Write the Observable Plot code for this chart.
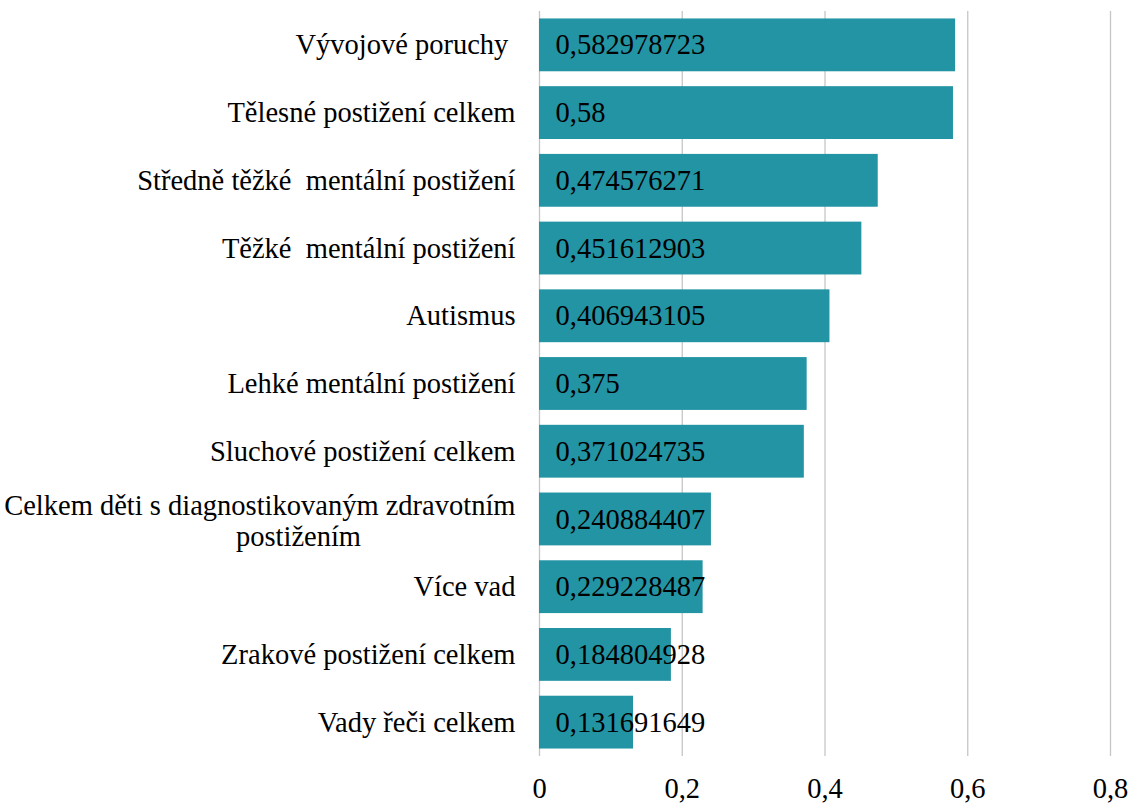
<!DOCTYPE html>
<html><head><meta charset="utf-8">
<script src="https://cdn.jsdelivr.net/npm/d3@7"></script>
<script src="https://cdn.jsdelivr.net/npm/@observablehq/plot@0.6"></script>
<style>body{margin:0;background:#fff} svg text{white-space:pre}</style>
</head><body><div id="chart"></div>
<script>
const categories = [
  "Vývojové poruchy ",
  "Tělesné postižení celkem",
  "Středně těžké  mentální postižení",
  "Těžké  mentální postižení",
  "Autismus",
  "Lehké mentální postižení",
  "Sluchové postižení celkem",
  "Celkem děti s diagnostikovaným zdravotním postižením",
  "Více vad",
  "Zrakové postižení celkem",
  "Vady řeči celkem"
];
const values = [0.582978723, 0.58, 0.474576271, 0.451612903, 0.406943105, 0.375, 0.371024735, 0.240884407, 0.229228487, 0.184804928, 0.131691649];
const valueLabels = ["0,582978723", "0,58", "0,474576271", "0,451612903", "0,406943105", "0,375", "0,371024735", "0,240884407", "0,229228487", "0,184804928", "0,131691649"];
const xTicks = [0, 0.2, 0.4, 0.6, 0.8];
const wrappedCategory = "Celkem děti s diagnostikovaným zdravotním postižením";
const wrappedLines = ["Celkem děti s diagnostikovaným zdravotním", "postižením"];

const data = categories.map((c, i) => ({category: c, value: values[i], label: valueLabels[i]}));
const fmt = d => String(d).replace(".", ",");
const FONT = 28.5;

const plot = Plot.plot({
  width: 1131, height: 803,
  marginLeft: 539, marginRight: 21, marginTop: 11, marginBottom: 47,
  style: {fontFamily: "Liberation Serif", fontSize: FONT + "px", color: "#000", background: "#fff"},
  x: {domain: [0, 0.8], label: null},
  y: {domain: categories, paddingInner: 0.22, paddingOuter: 0.11, round: false, label: null, axis: null},
  marks: [
    Plot.gridX(xTicks, {stroke: "#c6c6c6", strokeOpacity: 1, strokeWidth: 1.3}),
    Plot.axisX(xTicks, {tickSize: 0, tickPadding: 21, fontSize: FONT, label: null, tickFormat: fmt, fill: "#000"}),
    Plot.barX(data, {x: "value", y: "category", fill: "#2394A4"}),
    Plot.text(data, {x: 0, y: "category", text: "label", textAnchor: "start", dx: 16, fill: "#000", fontSize: FONT}),
    Plot.text(data.filter(d => d.category !== wrappedCategory), {x: 0, y: "category", text: "category", textAnchor: "end", dx: -24, fill: "#000", fontSize: FONT}),
    Plot.text(data.filter(d => d.category === wrappedCategory), {x: 0, y: "category", text: () => wrappedLines[0], textAnchor: "end", dx: -24, dy: -14, fill: "#000", fontSize: FONT}),
    Plot.text(data.filter(d => d.category === wrappedCategory), {x: 0, y: "category", text: () => wrappedLines[1], textAnchor: "middle", dx: -241, dy: 17, fill: "#000", fontSize: FONT})
  ]
});
document.getElementById("chart").appendChild(plot);
</script>
</body></html>
